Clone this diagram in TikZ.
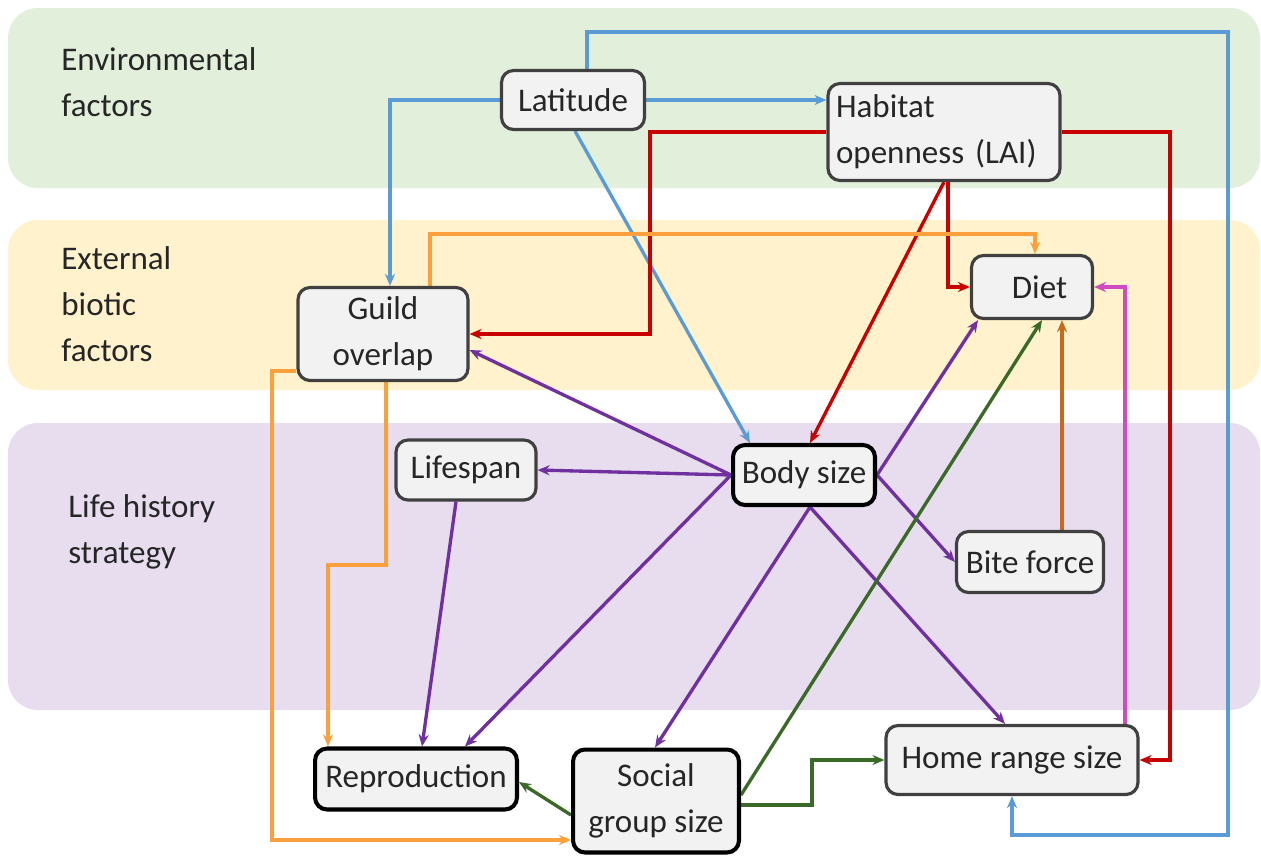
\documentclass[tikz,border=0pt]{standalone}
\usepackage{fontspec}
\setmainfont{Carlito}
\usetikzlibrary{arrows.meta,calc}
\pgfdeclarelayer{bandlayer}
\pgfdeclarelayer{linelayer}
\pgfsetlayers{bandlayer,linelayer,main}
\definecolor{bgreen}{HTML}{E2EFDA}
\definecolor{byellow}{HTML}{FFF2CC}
\definecolor{bpurple}{HTML}{E7DDEF}
\definecolor{boxfill}{HTML}{F2F2F2}
\definecolor{boxline}{HTML}{404040}
\definecolor{txt}{HTML}{262626}
\definecolor{cblue}{HTML}{5B9BD5}
\definecolor{cred}{HTML}{C80000}
\definecolor{corange}{HTML}{FCA03E}
\definecolor{cdorange}{HTML}{C8691E}
\definecolor{cmagenta}{HTML}{D04AC0}
\definecolor{cpurple}{HTML}{7030A0}
\definecolor{cgreen}{HTML}{3B6A28}
\begin{document}
\begin{tikzpicture}[x=0.02cm,y=-0.02cm,
  font=\fontsize{18.8}{26}\selectfont,
  band/.style={rounded corners=0.6cm},
  bandlabel/.style={anchor=west,align=left,text=txt,inner sep=0pt},
  box/.style={draw=boxline,fill=boxfill,line width=1.8pt,rounded corners=0.24cm,text=txt,align=center,inner sep=0pt},
  boldbox/.style={box,draw=black,line width=2.3pt},
  conn/.style={line width=1.9pt,-{Stealth[length=0.24cm,width=0.2cm]}},
  lblue/.style={conn,draw=cblue},
  lred/.style={conn,draw=cred},
  lorange/.style={conn,draw=corange},
  ldorange/.style={conn,draw=cdorange},
  lmagenta/.style={conn,draw=cmagenta},
  lpurple/.style={conn,draw=cpurple},
  lgreen/.style={conn,draw=cgreen}]
\useasboundingbox (0,0) rectangle (1261,856);
\begin{pgfonlayer}{bandlayer}
\fill[white] (0,0) rectangle (1261,856);
\fill[bgreen,band] (8,8) rectangle (1260,188);
\fill[byellow,band] (8,220) rectangle (1260,390);
\fill[bpurple,band] (8,423) rectangle (1260,710);
\end{pgfonlayer}
\node[bandlabel] (envlab) at (61,82) {Environmental\\factors};
\node[bandlabel] (extlab) at (61,304) {External\\biotic\\factors};
\node[bandlabel] (lhlab) at (68,532) {Life history\\strategy};
% nodes
\node[box,minimum width=2.86cm,minimum height=1.18cm] (lat) at (573,100) {Latitude};
\node[box,text width=4.32cm,inner xsep=0.16cm,minimum height=1.94cm,align=left] (hab) at (944,132) {Habitat\\openness (LAI)};
\node[box,minimum width=2.42cm,minimum height=1.26cm] (diet) at (1032,287) {\hspace{0.3cm}Diet};
\node[box,minimum width=3.4cm,minimum height=1.86cm] (guild) at (383,334) {Guild\\overlap};
\node[box,minimum width=2.8cm,minimum height=1.2cm] (life) at (466,470) {Lifespan};
\node[boldbox,minimum width=2.84cm,minimum height=1.2cm] (body) at (804,475) {Body size};
\node[box,minimum width=2.94cm,minimum height=1.22cm] (bite) at (1030,562) {Bite force};
\node[boldbox,minimum width=4.04cm,minimum height=1.22cm] (repro) at (416,779) {Reproduction};
\node[boldbox,minimum width=3.32cm,minimum height=2.06cm] (soc) at (656,801) {Social\\group size};
\node[box,minimum width=5.04cm,minimum height=1.38cm] (hlr) at (1012,760) {Home range size};
\begin{pgfonlayer}{linelayer}
% blue
\draw[lblue] (lat.west) -| (390,0 |- guild.north);
\draw[lblue] (lat.east) -- (hab.west |- lat.east);
\draw[lblue] (575,0 |- lat.south) -- (750,0 |- body.north);
\draw[lblue] (587,0 |- lat.north) -- (587,32) -- (1228,32) -- (1228,835) -| (hlr.south);
% red
\draw[lred] (hab.west) -| (650,0 |- guild.east) -- (guild.east);
\draw[lred] (hab.east) -| (1170,0 |- hlr.east) -- (hlr.east);
\draw[lred] (948,0 |- hab.south) |- (diet.west);
\draw[lred] (944,0 |- hab.south) -- (810,0 |- body.north);
% orange
\draw[lorange] (430,0 |- guild.north) -- (430,234) -| (1035,0 |- diet.north);
\draw[lorange] (386,0 |- guild.south) -- (386,565) -| (328,0 |- repro.north);
\draw[lorange] (guild.west |- 0,371) -- (272,371) |- (soc.west |- 0,840);
% dark orange, magenta
\draw[ldorange] (1062,0 |- bite.north) -- (1062,0 |- diet.south);
\draw[lmagenta] (1125,0 |- hlr.north) |- (diet.east);
% purple
\draw[lpurple] (body.west) -- (guild.east |- 0,350);
\draw[lpurple] (body.west) -- (life.east);
\draw[lpurple] (body.west) -- (465,0 |- repro.north);
\draw[lpurple] (body.east) -- (978,0 |- diet.south);
\draw[lpurple] (body.east) -- (bite.west);
\draw[lpurple] (810,0 |- body.south) -- (655,0 |- soc.north);
\draw[lpurple] (810,0 |- body.south) -- (1005,0 |- hlr.north);
\draw[lpurple] (456,0 |- life.south) -- (422,0 |- repro.north);
% green
\draw[lgreen] (soc.east |- 0,795) -- (1042,0 |- diet.south);
\draw[lgreen] (soc.east |- 0,805) -- (812,805) |- (hlr.west);
\draw[lgreen] (soc.west |- 0,815) -- (repro.east |- 0,782);
\end{pgfonlayer}
\end{tikzpicture}
\end{document}
